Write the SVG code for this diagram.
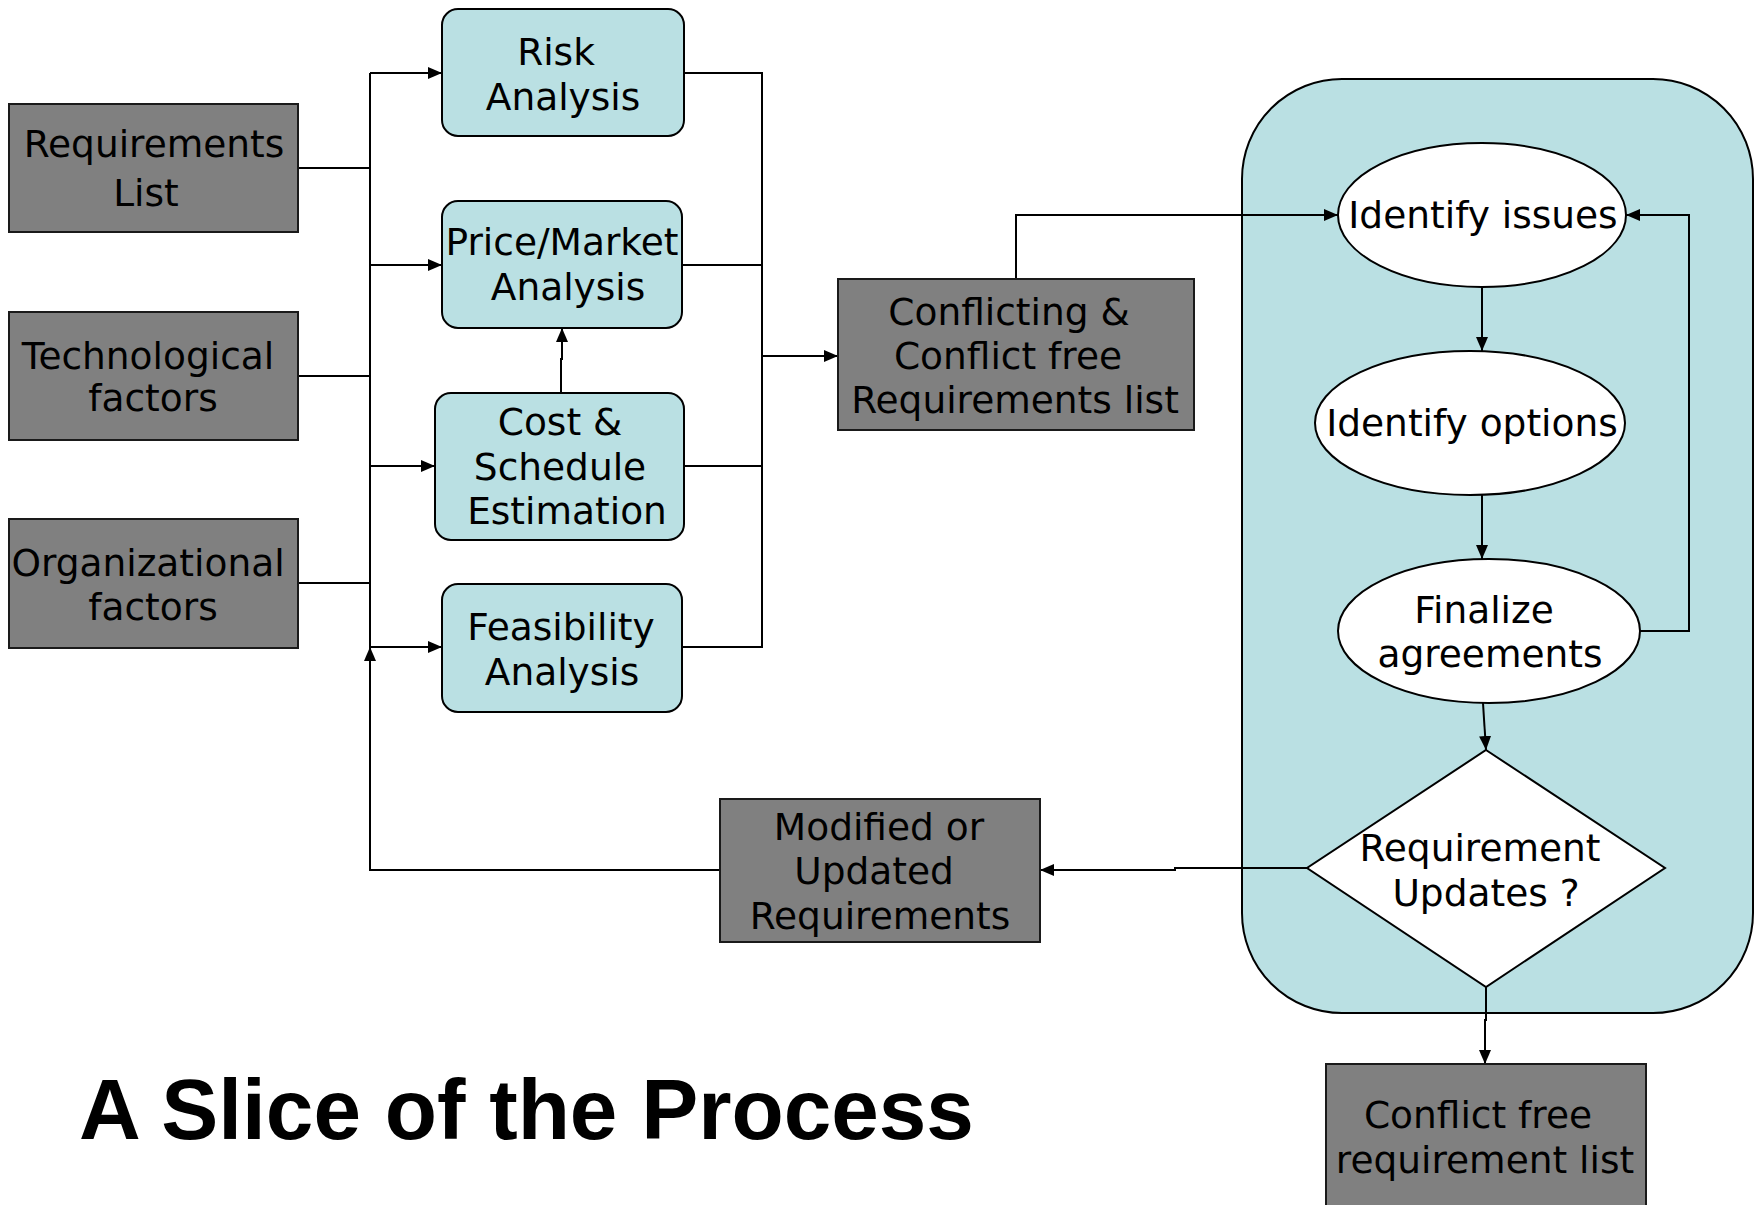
<svg xmlns="http://www.w3.org/2000/svg" width="1759" height="1205" viewBox="0 0 1759 1205">
  <style>
    .lbl { font-family: "DejaVu Sans", Verdana, sans-serif; font-size: 37.5px; fill: #000; text-anchor: middle; }
    .gray { fill: #808080; stroke: #1a1a1a; stroke-width: 2; }
    .blue { fill: #BAE0E3; stroke: #000; stroke-width: 2; }
    .oval { fill: #fff; stroke: #000; stroke-width: 2; }
    .wire { fill: none; stroke: #000; stroke-width: 2; }
    .title { font-family: "Liberation Sans", Arial, sans-serif; font-weight: bold; font-size: 85.5px; fill: #000; }
  </style>
  <defs>
    <marker id="arrow" viewBox="0 0 14 12" refX="14" refY="6" markerWidth="14" markerHeight="12" markerUnits="userSpaceOnUse" orient="auto">
      <path d="M0,0 L14,6 L0,12 z" fill="#000"/>
    </marker>
  </defs>

  <rect width="1759" height="1205" fill="#fff"/>

  <!-- container for the negotiation loop -->
  <g id="loop-container">
    <rect x="1242" y="79" width="511" height="934" rx="100" ry="100" class="blue"/>
  </g>

  <!-- connectors -->
  <g id="connectors">
    <!-- inputs onto the bus -->
    <path class="wire" d="M298,168 H370"/>
    <path class="wire" d="M298,376 H370"/>
    <path class="wire" d="M298,583 H370"/>
    <path class="wire" d="M370,73 V870"/>
    <!-- bus to analyses -->
    <path class="wire" d="M370,73 H442" marker-end="url(#arrow)"/>
    <path class="wire" d="M370,265 H442" marker-end="url(#arrow)"/>
    <path class="wire" d="M370,466 H435" marker-end="url(#arrow)"/>
    <path class="wire" d="M370,647 H442" marker-end="url(#arrow)"/>
    <!-- cost to price -->
    <path class="wire" d="M561,393 V359 H562 V328" marker-end="url(#arrow)"/>
    <!-- analyses to collector -->
    <path class="wire" d="M684,73 H762 V647 H682"/>
    <path class="wire" d="M682,265 H762"/>
    <path class="wire" d="M684,466 H762"/>
    <path class="wire" d="M762,356 H838" marker-end="url(#arrow)"/>
    <!-- conflicting list to identify issues -->
    <path class="wire" d="M1016,279 V215 H1338" marker-end="url(#arrow)"/>
    <!-- loop steps -->
    <path class="wire" d="M1482,287 V351" marker-end="url(#arrow)"/>
    <path class="wire" d="M1482,495 V559" marker-end="url(#arrow)"/>
    <path class="wire" d="M1483,703 L1486,750" marker-end="url(#arrow)"/>
    <path class="wire" d="M1640,631 H1689 V215 H1626" marker-end="url(#arrow)"/>
    <!-- decision outputs -->
    <path class="wire" d="M1307,868 H1175 V870 H1040" marker-end="url(#arrow)"/>
    <path class="wire" d="M720,870 H370 V647" marker-end="url(#arrow)"/>
    <path class="wire" d="M1486,987 V1020 H1485 V1064" marker-end="url(#arrow)"/>
  </g>

  <g id="requirements-list">
    <rect x="9" y="104" width="289" height="128" class="gray"/>
    <text class="lbl" x="154" y="157">Requirements</text>
    <text class="lbl" x="146" y="206">List</text>
  </g>
  <g id="technological-factors">
    <rect x="9" y="312" width="289" height="128" class="gray"/>
    <text class="lbl" x="148" y="369">Technological</text>
    <text class="lbl" x="153" y="411">factors</text>
  </g>
  <g id="organizational-factors">
    <rect x="9" y="519" width="289" height="129" class="gray"/>
    <text class="lbl" x="148" y="576">Organizational</text>
    <text class="lbl" x="153" y="620">factors</text>
  </g>

  <g id="risk-analysis">
    <rect x="442" y="9" width="242" height="127" rx="16" class="blue"/>
    <text class="lbl" x="556" y="65">Risk</text>
    <text class="lbl" x="563" y="110">Analysis</text>
  </g>
  <g id="price-market-analysis">
    <rect x="442" y="201" width="240" height="127" rx="16" class="blue"/>
    <text class="lbl" x="562" y="255">Price/Market</text>
    <text class="lbl" x="568" y="300">Analysis</text>
  </g>
  <g id="cost-schedule-estimation">
    <rect x="435" y="393" width="249" height="147" rx="16" class="blue"/>
    <text class="lbl" x="560" y="435">Cost &amp;</text>
    <text class="lbl" x="560" y="480">Schedule</text>
    <text class="lbl" x="567" y="524">Estimation</text>
  </g>
  <g id="feasibility-analysis">
    <rect x="442" y="584" width="240" height="128" rx="16" class="blue"/>
    <text class="lbl" x="561" y="640">Feasibility</text>
    <text class="lbl" x="562" y="685">Analysis</text>
  </g>

  <g id="conflicting-list">
    <rect x="838" y="279" width="356" height="151" class="gray"/>
    <text class="lbl" x="1009" y="325">Conflicting &amp;</text>
    <text class="lbl" x="1008" y="369">Conflict free</text>
    <text class="lbl" x="1015" y="413">Requirements list</text>
  </g>

  <g id="identify-issues">
    <ellipse cx="1482" cy="215" rx="144" ry="72" class="oval"/>
    <text class="lbl" x="1483" y="228">Identify issues</text>
  </g>
  <g id="identify-options">
    <ellipse cx="1470" cy="423" rx="155" ry="72" class="oval"/>
    <text class="lbl" x="1472" y="436">Identify options</text>
  </g>
  <g id="finalize-agreements">
    <ellipse cx="1489" cy="631" rx="151" ry="72" class="oval"/>
    <text class="lbl" x="1484" y="623">Finalize</text>
    <text class="lbl" x="1490" y="667">agreements</text>
  </g>
  <g id="requirement-updates">
    <polygon points="1486,750 1665,868 1486,987 1307,868" class="oval"/>
    <text class="lbl" x="1480" y="861">Requirement</text>
    <text class="lbl" x="1486" y="906">Updates ?</text>
  </g>

  <g id="modified-requirements">
    <rect x="720" y="799" width="320" height="143" class="gray"/>
    <text class="lbl" x="879" y="840">Modified or</text>
    <text class="lbl" x="874" y="884">Updated</text>
    <text class="lbl" x="880" y="929">Requirements</text>
  </g>

  <g id="conflict-free-list">
    <rect x="1326" y="1064" width="320" height="150" class="gray"/>
    <text class="lbl" x="1478" y="1128">Conflict free</text>
    <text class="lbl" x="1485" y="1173">requirement list</text>
  </g>

  <text class="title" x="79" y="1139">A Slice of the Process</text>
</svg>
